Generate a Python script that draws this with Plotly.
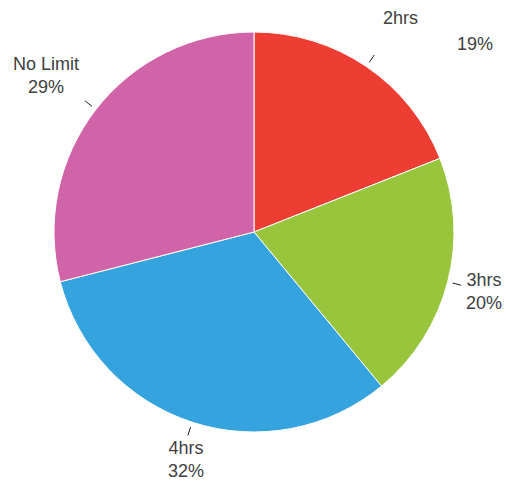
import math
import plotly.graph_objects as go

categories = ["2hrs", "3hrs", "4hrs", "No Limit"]
values = [19, 20, 32, 29]
colors = ["#EE3E33", "#99C53C", "#35A3DD", "#D163A9"]

W, H = 506, 482
CX, CY, R = 254, 232, 200

fig = go.Figure(go.Pie(
    labels=categories, values=values, sort=False, direction="clockwise",
    rotation=0, marker=dict(colors=colors, line=dict(color="white", width=1)),
    textinfo="none", hoverinfo="label+percent", showlegend=False,
    domain=dict(x=[(CX - R) / W, (CX + R) / W], y=[1 - (CY + R) / H, 1 - (CY - R) / H]),
))

def px(x, y):
    return x / W, 1 - y / H

# label text positions (pixels) per category
label_pos = {
    "2hrs": [("2hrs", 400, 18), ("{p}%", 475, 44)],
    "3hrs": [("3hrs<br>{p}%", 484, 291)],
    "4hrs": [("4hrs<br>{p}%", 186, 459)],
    "No Limit": [("No Limit<br>{p}%", 46, 75)],
}

total = sum(values)
cum = 0
shapes = []
annotations = []
for cat, v in zip(categories, values):
    mid = (cum + v / 2) / total * 2 * math.pi
    cum += v
    x0, y0 = CX + 205 * math.sin(mid), CY - 205 * math.cos(mid)
    x1, y1 = CX + 214 * math.sin(mid), CY - 214 * math.cos(mid)
    a0, b0 = px(x0, y0)
    a1, b1 = px(x1, y1)
    shapes.append(dict(type="line", xref="paper", yref="paper", x0=a0, y0=b0, x1=a1, y1=b1,
                       line=dict(color="#222", width=1)))
    pct = round(v / total * 100)
    for txt, lx, ly in label_pos[cat]:
        ax_, ay_ = px(lx, ly)
        annotations.append(dict(text=txt.format(p=pct), x=ax_, y=ay_, xref="paper", yref="paper",
                                showarrow=False, xanchor="center", yanchor="middle",
                                font=dict(family="Liberation Sans, Arial", size=18, color="#404040")))

fig.update_layout(
    width=W, height=H, margin=dict(l=0, r=0, t=0, b=0),
    paper_bgcolor="white", plot_bgcolor="white",
    shapes=shapes, annotations=annotations,
)
fig.write_html("out.html", config={"displayModeBar": False},
               post_script="document.body.style.margin='0';")
